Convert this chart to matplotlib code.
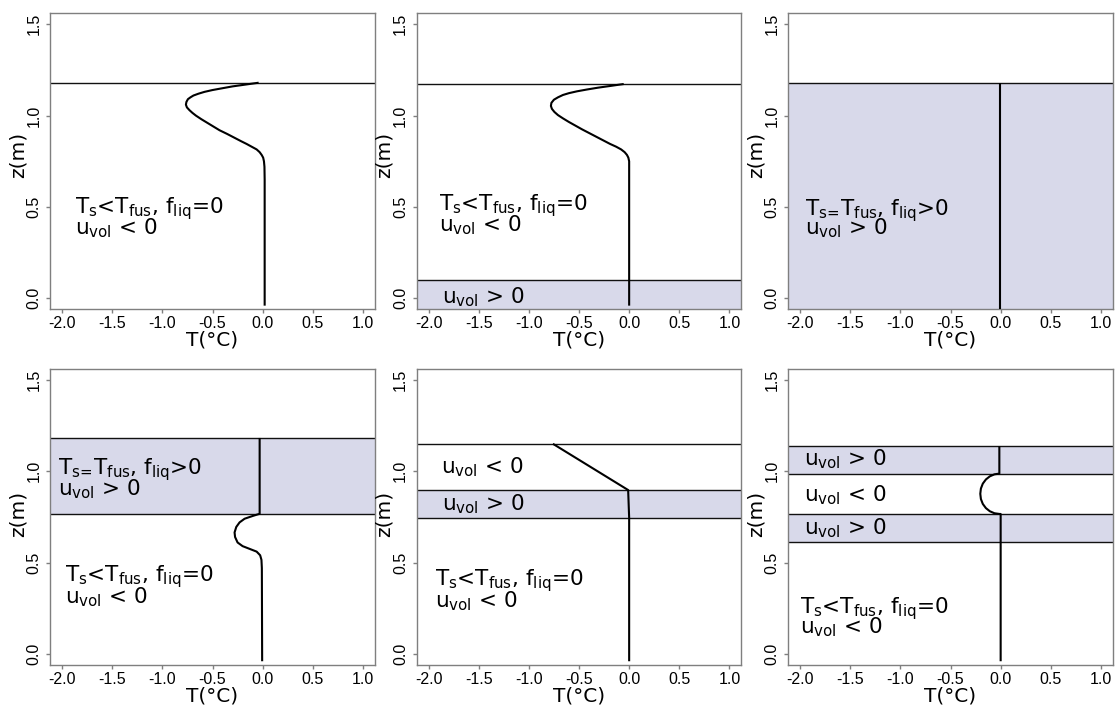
import matplotlib
matplotlib.use("Agg")
import matplotlib.pyplot as plt

plt.rcParams['font.family'] = ['DejaVu Sans']
plt.rcParams['mathtext.default'] = 'regular'

# ---------------- data ----------------
xticks = [-2.0, -1.5, -1.0, -0.5, 0.0, 0.5, 1.0]
xtick_labels = ['-2.0', '-1.5', '-1.0', '-0.5', '0.0', '0.5', '1.0']
yticks = [0.0, 0.5, 1.0, 1.5]
ytick_labels = ['0.0', '0.5', '1.0', '1.5']
xlim = (-2.12, 1.12)
ylim = (-0.06, 1.56)
xlabel = 'T(°C)'
ylabel = 'z(m)'

lab_cold = r'T$_{s}$<T$_{fus}$, f$_{liq}$=0'
lab_melt = r'T$_{s\!=\!}$T$_{fus}$, f$_{liq}$>0'
lab_uneg = r'u$_{vol}$ < 0'
lab_upos = r'u$_{vol}$ > 0'

# panel 1
p1_T = [-0.04, -0.17, -0.30, -0.40, -0.50, -0.58, -0.64, -0.69, -0.72, -0.745, -0.76,
        -0.765, -0.755, -0.73, -0.70, -0.665, -0.61, -0.55, -0.49, -0.43, -0.355,
        -0.285, -0.215, -0.16, -0.11, -0.06, -0.03, -0.01, 0.005, 0.013, 0.018, 0.02, 0.02]
p1_z = [1.18, 1.17, 1.16, 1.15, 1.14, 1.13, 1.12, 1.11, 1.10, 1.09, 1.075,
        1.06, 1.045, 1.03, 1.015, 1.00, 0.98, 0.96, 0.94, 0.92, 0.90,
        0.88, 0.86, 0.845, 0.83, 0.815, 0.80, 0.785, 0.77, 0.75, 0.72, 0.65, -0.04]
p1_lines = [1.18]
p1_bands = []
p1_texts = [(lab_cold, -1.87, 0.467), (lab_uneg, -1.87, 0.350)]

# panel 2
p2_T = [-0.054, -0.18, -0.31, -0.42, -0.52, -0.60, -0.66, -0.71, -0.75, -0.775, -0.78,
        -0.77, -0.745, -0.71, -0.66, -0.60, -0.535, -0.47, -0.40, -0.33, -0.26,
        -0.19, -0.13, -0.08, -0.045, -0.022, -0.008, 0.0, 0.0, 0.0]
p2_z = [1.173, 1.163, 1.153, 1.143, 1.133, 1.123, 1.113, 1.10, 1.087, 1.07, 1.053,
        1.037, 1.02, 1.003, 0.985, 0.965, 0.945, 0.925, 0.905, 0.885, 0.865,
        0.845, 0.83, 0.815, 0.80, 0.785, 0.77, 0.75, 0.72, -0.04]
p2_lines = [1.173, 0.10]
p2_bands = [(-0.10, 0.10)]
p2_texts = [(lab_cold, -1.90, 0.483), (lab_uneg, -1.90, 0.368), (lab_upos, -1.87, -0.03)]

# panel 3
p3_T = [-0.01, -0.01]
p3_z = [1.18, -0.06]
p3_lines = [1.18]
p3_bands = [(-0.10, 1.18)]
p3_texts = [(lab_melt, -1.95, 0.456), (lab_upos, -1.95, 0.350)]

# panel 4
p4_T = [-0.03, -0.03, -0.10, -0.18, -0.23, -0.263, -0.28, -0.275, -0.25, -0.20, -0.13,
        -0.06, -0.025, -0.012, -0.008, -0.005]
p4_z = [1.182, 0.767, 0.755, 0.74, 0.72, 0.695, 0.665, 0.64, 0.61, 0.59, 0.575,
        0.56, 0.54, 0.515, 0.47, -0.04]
p4_lines = [1.182, 0.767]
p4_bands = [(0.767, 1.182)]
p4_texts = [(lab_melt, -2.04, 0.985), (lab_upos, -2.04, 0.867),
            (lab_cold, -1.97, 0.396), (lab_uneg, -1.97, 0.274)]

# panel 5
p5_T = [-0.76, -0.01, 0.0, 0.0]
p5_z = [1.15, 0.897, 0.745, -0.04]
p5_lines = [1.15, 0.897, 0.745]
p5_bands = [(0.745, 0.897)]
p5_texts = [(lab_uneg, -1.88, 0.989), (lab_upos, -1.87, 0.784),
            (lab_cold, -1.94, 0.375), (lab_uneg, -1.94, 0.256)]

# panel 6
p6_T = [-0.013, -0.013, -0.062, -0.108, -0.147, -0.178, -0.197, -0.203, -0.197,
        -0.178, -0.147, -0.108, -0.062, -0.01, 0.0, 0.0]
p6_z = [1.137, 0.987, 0.983, 0.972, 0.955, 0.932, 0.905, 0.8765, 0.848,
        0.821, 0.798, 0.781, 0.770, 0.766, 0.766, -0.04]
p6_lines = [1.137, 0.987, 0.766, 0.615]
p6_bands = [(0.987, 1.137), (0.615, 0.766)]
p6_texts = [(lab_upos, -1.96, 1.031), (lab_uneg, -1.96, 0.833), (lab_upos, -1.96, 0.656),
            (lab_cold, -2.0, 0.221), (lab_uneg, -2.0, 0.110)]

panels = [
    (p1_T, p1_z, p1_lines, p1_bands, p1_texts),
    (p2_T, p2_z, p2_lines, p2_bands, p2_texts),
    (p3_T, p3_z, p3_lines, p3_bands, p3_texts),
    (p4_T, p4_z, p4_lines, p4_bands, p4_texts),
    (p5_T, p5_z, p5_lines, p5_bands, p5_texts),
    (p6_T, p6_z, p6_lines, p6_bands, p6_texts),
]

# ---------------- layout ----------------
W, H = 1115, 711
fig = plt.figure(figsize=(W / 100, H / 100), dpi=100)
col_left = [50, 416.5, 788]
row_bottom = [309.3, 664.9]
ylabel_y = [0.52, 0.51]
ax_w, ax_h = 325, 296

band_color = '#d8d9ea'
spine_color = '#7f7f7f'

for i, (T, z, lines, bands, texts) in enumerate(panels):
    r, c = divmod(i, 3)
    ax = fig.add_axes([col_left[c] / W, 1 - row_bottom[r] / H, ax_w / W, ax_h / H])
    ax.set_xlim(*xlim)
    ax.set_ylim(*ylim)
    for lo, hi in bands:
        ax.axhspan(lo, hi, color=band_color, lw=0, zorder=1)
    for h in lines:
        ax.axhline(h, color='#111111', lw=1.0, zorder=2)
    ax.plot(T, z, color='black', lw=1.5, zorder=3, solid_capstyle='butt',
            solid_joinstyle='round')
    for s, tx, tz in texts:
        ax.text(tx, tz, s, fontsize=15.5, ha='left', va='baseline', zorder=4,
                family='DejaVu Sans')
    for sp in ax.spines.values():
        sp.set_color(spine_color)
        sp.set_linewidth(1.0)
    ax.set_xticks(xticks)
    ax.set_xticklabels(xtick_labels, family='Liberation Sans', fontsize=11.5)
    ax.set_yticks(yticks)
    ax.set_yticklabels(ytick_labels, family='Liberation Sans', fontsize=11.5,
                       rotation=90, va='center')
    ax.tick_params(direction='out', length=3, width=1, color=spine_color, pad=2.0)
    ax.tick_params(axis='y', pad=3.0)
    ax.set_xlabel(xlabel, fontsize=14.5)
    ax.xaxis.label.set_va('center')
    ax.xaxis.set_label_coords(0.5, -31 / ax_h)
    ax.set_ylabel(ylabel, fontsize=14.5)
    ax.yaxis.label.set_va('center')
    ax.yaxis.set_label_coords(-32 / ax_w, ylabel_y[r])

fig.savefig('out.png', dpi=100, facecolor='white')
